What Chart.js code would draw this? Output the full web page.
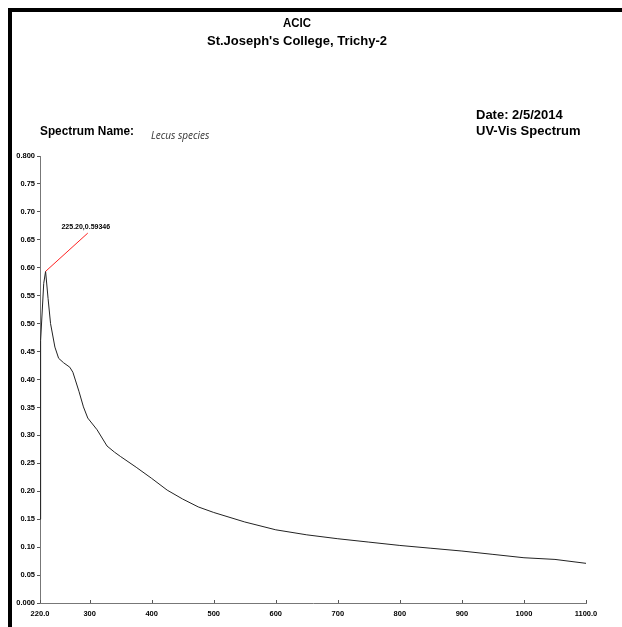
<!DOCTYPE html>
<html>
<head>
<meta charset="utf-8">
<script src="https://cdn.jsdelivr.net/npm/chart.js@4.4.1/dist/chart.umd.min.js"></script>
<style>
  html, body { margin: 0; padding: 0; background: #fff; }
  #wrap { width: 622px; height: 627px; position: relative; }
</style>
</head>
<body>
<div id="wrap"><canvas id="myChart" width="622" height="627"></canvas></div>
<script>
// UV-Vis spectrum
const wavelength = [220, 221, 226, 229, 233, 237, 244, 250, 258, 268, 273, 277, 283, 290, 297, 312, 328, 340, 350, 375, 400, 425, 450, 475, 500, 550, 600, 650, 700, 750, 800, 850, 900, 950, 1000, 1050, 1100];
const absorbance = [0.150, 0.470, 0.572, 0.5935, 0.545, 0.500, 0.458, 0.438, 0.430, 0.422, 0.413, 0.399, 0.378, 0.351, 0.331, 0.310, 0.281, 0.270, 0.262, 0.243, 0.223, 0.202, 0.186, 0.172, 0.162, 0.145, 0.131, 0.122, 0.115, 0.109, 0.103, 0.098, 0.093, 0.087, 0.081, 0.078, 0.071];

const xTicks = [220, 300, 400, 500, 600, 700, 800, 900, 1000, 1100];
const yTicks = [0, 0.05, 0.10, 0.15, 0.20, 0.25, 0.30, 0.35, 0.40, 0.45, 0.50, 0.55, 0.60, 0.65, 0.70, 0.75, 0.80];

// peak marker
const peakX = 229, peakY = 0.5935;
const peakLabel = '225.20,0.59346';
const peakTagX = 297, peakTagY = 0.662;

const ctx = document.getElementById('myChart').getContext('2d');

const headFont = 'bold 13px "Liberation Sans", Arial, sans-serif';

const pagePlugin = {
    id: 'page',
    afterDraw(chart) {
        const c = chart.ctx;
        const xs = chart.scales.x, ys = chart.scales.y;
        c.save();
        // frame
        c.fillStyle = '#000';
        c.fillRect(8, 8, 614, 4);
        c.fillRect(8, 8, 4, 619);

        // header texts
        c.font = headFont;
        c.textBaseline = 'middle';
        c.textAlign = 'center';
        c.fillText('ACIC', 297, 23, 28);
        c.fillText("St.Joseph's College, Trichy-2", 297, 41, 187);
        c.textAlign = 'left';
        c.fillText('Date: 2/5/2014', 476, 115, 94);
        c.fillText('UV-Vis Spectrum', 476, 131, 107);
        c.fillText('Spectrum Name:', 40, 131, 94);
        c.font = 'italic 10px "Open Sans", sans-serif';
        c.fillStyle = '#333';
        c.fillText('Lecus species', 151, 136);

        // x tick marks pointing up
        c.strokeStyle = '#555';
        c.lineWidth = 1;
        xTicks.forEach(v => {
            const px = Math.round(xs.getPixelForValue(v)) + 0.5;
            c.beginPath();
            c.moveTo(px, ys.bottom);
            c.lineTo(px, ys.bottom - 3);
            c.stroke();
        });

        // peak annotation
        const x0 = xs.getPixelForValue(peakX), y0 = ys.getPixelForValue(peakY);
        const x1 = xs.getPixelForValue(peakTagX), y1 = ys.getPixelForValue(peakTagY);
        c.strokeStyle = '#ff2020';
        c.beginPath();
        c.moveTo(x0, y0);
        c.lineTo(x1, y1);
        c.stroke();
        c.fillStyle = '#000';
        c.font = 'bold 7px "Liberation Sans", Arial, sans-serif';
        c.textAlign = 'center';
        c.fillText(peakLabel, x1 - 2, y1 - 6, 60);

        // axis title, mostly cut by the page edge
        c.font = 'bold 8px "Liberation Sans", Arial, sans-serif';
        c.fillText('nm', 306, 629);
        c.restore();
    }
};

const tickFont = { family: '"Liberation Sans", Arial, sans-serif', size: 7.5, weight: 'bold' };

const myChart = new Chart(ctx, {
    type: 'line',
    data: {
        datasets: [{
            label: 'Lecus species',
            data: wavelength.map((w, i) => ({ x: w, y: absorbance[i] })),
            borderColor: '#222',
            borderWidth: 1,
            pointRadius: 0,
            tension: 0,
            fill: false
        }]
    },
    options: {
        responsive: false,
        animation: false,
        layout: { padding: { left: 0, top: 156, right: 36, bottom: 0 } },
        plugins: { legend: { display: false }, tooltip: { enabled: false } },
        scales: {
            x: {
                type: 'linear',
                min: 220,
                max: 1100,
                afterBuildTicks: s => { s.ticks = xTicks.map(v => ({ value: v })); },
                afterFit: s => { s.height = 24; },
                border: { color: '#777', width: 1 },
                grid: { drawOnChartArea: false, drawTicks: false },
                ticks: {
                    autoSkip: false,
                    maxRotation: 0,
                    padding: 6,
                    color: '#000',
                    font: tickFont,
                    callback: v => (v === 220 || v === 1100) ? v.toFixed(1) : String(v)
                }
            },
            y: {
                min: 0,
                max: 0.8,
                afterBuildTicks: s => { s.ticks = yTicks.map(v => ({ value: v })); },
                afterFit: s => { s.width = 40; },
                border: { color: '#777', width: 1 },
                grid: { drawOnChartArea: false, drawTicks: true, tickLength: 3, color: '#555' },
                ticks: {
                    autoSkip: false,
                    padding: 2,
                    color: '#000',
                    font: tickFont,
                    callback: v => (v === 0 || Math.abs(v - 0.8) < 1e-9) ? v.toFixed(3) : v.toFixed(2)
                }
            }
        }
    },
    plugins: [pagePlugin]
});
</script>
</body>
</html>
